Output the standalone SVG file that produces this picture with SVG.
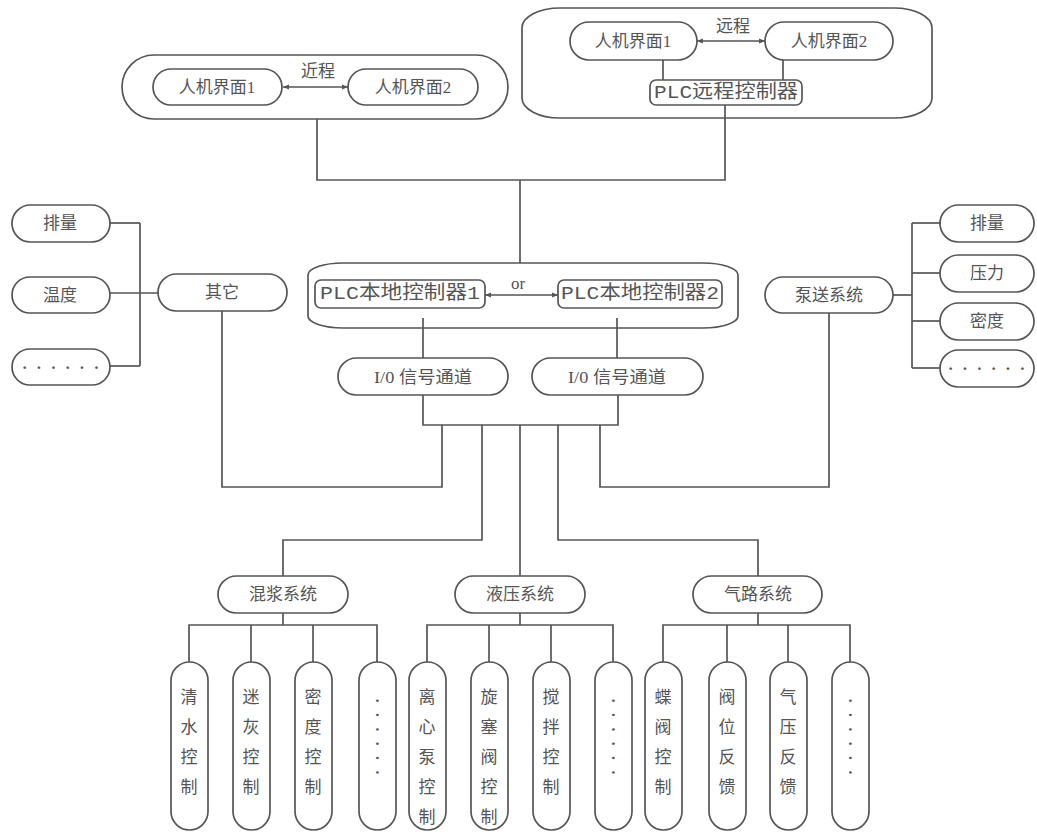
<svg xmlns="http://www.w3.org/2000/svg" width="1037" height="832" viewBox="0 0 1037 832">
<style>
.b{fill:#fff;stroke:#555;stroke-width:1.7}
.c{fill:none;stroke:#555;stroke-width:1.7}
.t{font-family:"Liberation Serif","Noto Sans CJK SC",serif;font-size:17px;fill:#555;text-anchor:middle;dominant-baseline:central}
.m{font-family:"Liberation Mono","Noto Sans CJK SC",monospace;font-size:19px;fill:#555;text-anchor:middle;dominant-baseline:central}
.v{font-family:"Liberation Serif","Noto Sans CJK SC",serif;font-size:17px;fill:#555;text-anchor:middle}
.d{font-family:"Liberation Serif","Noto Sans CJK SC",serif;font-size:16px;font-weight:bold;fill:#555;text-anchor:middle;dominant-baseline:central;letter-spacing:9px}
</style>
<defs>
<marker id="ah" viewBox="0 0 10 10" refX="10" refY="5" markerWidth="6" markerHeight="6" orient="auto-start-reverse" markerUnits="userSpaceOnUse">
<path d="M0,1 L10,5 L0,9 z" fill="#555"/>
</marker>
</defs>
<rect width="1037" height="832" fill="#fff"/>

<g id="local-hmi-group">
<rect class="b" x="122" y="55" width="386" height="64" rx="32"/>
<text class="t" x="318" y="71" font-size="16">近程</text>
</g>
<g id="remote-group">
<rect class="b" x="522" y="8" width="410" height="110" rx="38" ry="20"/>
<text class="t" x="733" y="26" font-size="16">远程</text>
</g>
<g id="plc-local-group">
<rect class="b" x="308" y="263" width="430" height="65" rx="35" ry="12"/>
<text class="t" x="518" y="283" font-size="15">or</text>
</g>

<g id="connectors">
<line class="c" x1="283" y1="87" x2="348" y2="87" marker-start="url(#ah)" marker-end="url(#ah)"/>
<line class="c" x1="697" y1="41" x2="765" y2="41" marker-start="url(#ah)" marker-end="url(#ah)"/>
<line class="c" x1="485" y1="295" x2="558" y2="295" marker-start="url(#ah)" marker-end="url(#ah)"/>
<polyline class="c" points="663,60 663,80"/>
<polyline class="c" points="783,60 783,80"/>
<polyline class="c" points="317,119 317,180 725,180 725,105"/>
<polyline class="c" points="520,180 520,263"/>
<polyline class="c" points="423,318 423,358"/>
<polyline class="c" points="617,318 617,358"/>
<polyline class="c" points="423,395 423,425 618,425 618,395"/>
<polyline class="c" points="442,425 442,487 222,487 222,311"/>
<polyline class="c" points="600,425 600,487 829,487 829,313"/>
<polyline class="c" points="482,425 482,540 283,540 283,576"/>
<polyline class="c" points="520,425 520,576"/>
<polyline class="c" points="558,425 558,540 758,540 758,576"/>
<polyline class="c" points="110,223 140,223"/>
<polyline class="c" points="110,293 158,293"/>
<polyline class="c" points="110,366 140,366"/>
<polyline class="c" points="140,223 140,366"/>
<polyline class="c" points="893,295 912,295"/>
<polyline class="c" points="912,223 912,368"/>
<polyline class="c" points="912,223 940,223"/>
<polyline class="c" points="912,273 940,273"/>
<polyline class="c" points="912,321 940,321"/>
<polyline class="c" points="912,368 940,368"/>
<polyline class="c" points="283,613 283,625"/>
<polyline class="c" points="189,662 189,625 377,625 377,662"/>
<polyline class="c" points="251,625 251,662"/>
<polyline class="c" points="313,625 313,662"/>
<polyline class="c" points="520,613 520,625"/>
<polyline class="c" points="427,662 427,625 613,625 613,662"/>
<polyline class="c" points="489,625 489,662"/>
<polyline class="c" points="551,625 551,662"/>
<polyline class="c" points="758,613 758,625"/>
<polyline class="c" points="663,662 663,625 850,625 850,662"/>
<polyline class="c" points="727,625 727,662"/>
<polyline class="c" points="788,625 788,662"/>
</g>

<g id="local-hmi1"><rect class="b" x="153" y="69" width="129" height="36" rx="18"/><text class="t" x="217" y="87">人机界面1</text></g>
<g id="local-hmi2"><rect class="b" x="348" y="69" width="130" height="36" rx="18"/><text class="t" x="413" y="87">人机界面2</text></g>

<g id="remote-hmi1"><rect class="b" x="570" y="22" width="127" height="38" rx="19"/><text class="t" x="633" y="41">人机界面1</text></g>
<g id="remote-hmi2"><rect class="b" x="765" y="22" width="128" height="38" rx="19"/><text class="t" x="829" y="41">人机界面2</text></g>
<g id="plc-remote"><rect class="b" x="650" y="80" width="152" height="25" rx="6"/><text class="m" x="726" y="92.5" textLength="144" lengthAdjust="spacingAndGlyphs">PLC远程控制器</text></g>

<g id="plc-local1"><rect class="b" x="315" y="280" width="170" height="28" rx="6"/><text class="m" x="400" y="294" textLength="160" lengthAdjust="spacingAndGlyphs">PLC本地控制器1</text></g>
<g id="plc-local2"><rect class="b" x="558" y="280" width="164" height="28" rx="6"/><text class="m" x="640" y="294" textLength="158" lengthAdjust="spacingAndGlyphs">PLC本地控制器2</text></g>

<g id="io1"><rect class="b" x="338" y="358" width="170" height="37" rx="18.5"/><text class="t" x="423" y="377" textLength="98" lengthAdjust="spacingAndGlyphs">I/0 信号通道</text></g>
<g id="io2"><rect class="b" x="532" y="358" width="171" height="37" rx="18.5"/><text class="t" x="617" y="377" textLength="98" lengthAdjust="spacingAndGlyphs">I/0 信号通道</text></g>

<g id="other"><rect class="b" x="158" y="274" width="129" height="37" rx="18.5"/><text class="t" x="222" y="292">其它</text></g>
<g id="l-displacement"><rect class="b" x="12" y="205" width="98" height="37" rx="18.5"/><text class="t" x="60" y="223">排量</text></g>
<g id="l-temperature"><rect class="b" x="12" y="277" width="98" height="36" rx="18"/><text class="t" x="60" y="295">温度</text></g>
<g id="l-more"><rect class="b" x="12" y="349" width="98" height="36" rx="18"/><text class="d" x="65" y="367">······</text></g>

<g id="pump"><rect class="b" x="765" y="277" width="128" height="36" rx="18"/><text class="t" x="829" y="295">泵送系统</text></g>
<g id="r-displacement"><rect class="b" x="940" y="205" width="94" height="37" rx="18.5"/><text class="t" x="987" y="223">排量</text></g>
<g id="r-pressure"><rect class="b" x="940" y="255" width="94" height="37" rx="18.5"/><text class="t" x="987" y="273">压力</text></g>
<g id="r-density"><rect class="b" x="940" y="303" width="94" height="37" rx="18.5"/><text class="t" x="987" y="321">密度</text></g>
<g id="r-more"><rect class="b" x="940" y="350" width="94" height="37" rx="18.5"/><text class="d" x="991" y="368">······</text></g>

<g id="mixing"><rect class="b" x="218" y="576" width="130" height="37" rx="18.5"/><text class="t" x="283" y="594">混浆系统</text></g>
<g id="hydraulic"><rect class="b" x="455" y="576" width="130" height="37" rx="18.5"/><text class="t" x="520" y="594">液压系统</text></g>
<g id="pneumatic"><rect class="b" x="693" y="576" width="129" height="37" rx="18.5"/><text class="t" x="758" y="594">气路系统</text></g>

<g id="m1"><rect class="b" x="171" y="662" width="37" height="168" rx="18.5"/><text class="v"><tspan x="189" y="703">清</tspan><tspan x="189" y="733">水</tspan><tspan x="189" y="763">控</tspan><tspan x="189" y="793">制</tspan></text></g>
<g id="m2"><rect class="b" x="233" y="662" width="37" height="168" rx="18.5"/><text class="v"><tspan x="251" y="703">迷</tspan><tspan x="251" y="733">灰</tspan><tspan x="251" y="763">控</tspan><tspan x="251" y="793">制</tspan></text></g>
<g id="m3"><rect class="b" x="295" y="662" width="37" height="168" rx="18.5"/><text class="v"><tspan x="313" y="703">密</tspan><tspan x="313" y="733">度</tspan><tspan x="313" y="763">控</tspan><tspan x="313" y="793">制</tspan></text></g>
<g id="m4"><rect class="b" x="359" y="662" width="37" height="168" rx="18.5"/><text class="d" transform="rotate(90 377 736)" x="382" y="736">······</text></g>

<g id="h1"><rect class="b" x="409" y="662" width="37" height="168" rx="18.5"/><text class="v"><tspan x="427" y="703">离</tspan><tspan x="427" y="733">心</tspan><tspan x="427" y="763">泵</tspan><tspan x="427" y="793">控</tspan><tspan x="427" y="823">制</tspan></text></g>
<g id="h2"><rect class="b" x="471" y="662" width="37" height="168" rx="18.5"/><text class="v"><tspan x="489" y="703">旋</tspan><tspan x="489" y="733">塞</tspan><tspan x="489" y="763">阀</tspan><tspan x="489" y="793">控</tspan><tspan x="489" y="823">制</tspan></text></g>
<g id="h3"><rect class="b" x="533" y="662" width="37" height="168" rx="18.5"/><text class="v"><tspan x="551" y="703">搅</tspan><tspan x="551" y="733">拌</tspan><tspan x="551" y="763">控</tspan><tspan x="551" y="793">制</tspan></text></g>
<g id="h4"><rect class="b" x="595" y="662" width="37" height="168" rx="18.5"/><text class="d" transform="rotate(90 613 736)" x="618" y="736">······</text></g>

<g id="p1"><rect class="b" x="645" y="662" width="37" height="168" rx="18.5"/><text class="v"><tspan x="663" y="703">蝶</tspan><tspan x="663" y="733">阀</tspan><tspan x="663" y="763">控</tspan><tspan x="663" y="793">制</tspan></text></g>
<g id="p2"><rect class="b" x="709" y="662" width="37" height="168" rx="18.5"/><text class="v"><tspan x="727" y="703">阀</tspan><tspan x="727" y="733">位</tspan><tspan x="727" y="763">反</tspan><tspan x="727" y="793">馈</tspan></text></g>
<g id="p3"><rect class="b" x="770" y="662" width="37" height="168" rx="18.5"/><text class="v"><tspan x="788" y="703">气</tspan><tspan x="788" y="733">压</tspan><tspan x="788" y="763">反</tspan><tspan x="788" y="793">馈</tspan></text></g>
<g id="p4"><rect class="b" x="832" y="662" width="37" height="168" rx="18.5"/><text class="d" transform="rotate(90 850 736)" x="855" y="736">······</text></g>
</svg>
